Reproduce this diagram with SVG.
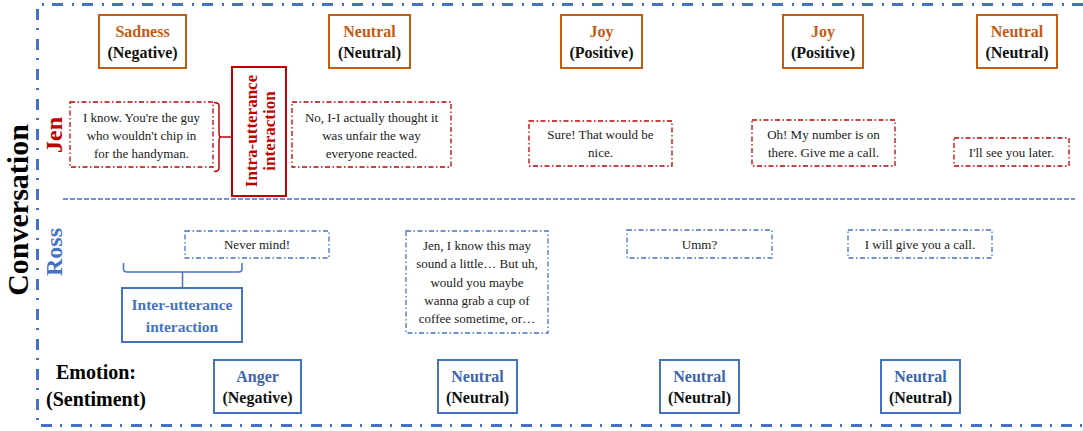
<svg xmlns="http://www.w3.org/2000/svg" width="1083" height="431" viewBox="0 0 1083 431">
<style>
text{font-family:"Liberation Serif","Times New Roman",serif;}
.emo{fill:#fff;stroke:#C55A11;stroke-width:2;}
.emb{fill:#fff;stroke:#4472C4;stroke-width:2;}
.ju{fill:#fff;stroke:#C00000;stroke-width:1.3;stroke-dasharray:5 2.5 1.5 2.5;}
.ru{fill:#fff;stroke:#4472C4;stroke-width:1.3;stroke-dasharray:5 2.5 1.5 2.5;}
.ut{font-size:13px;fill:#1a1a1a;text-anchor:middle;}
.lbl{font-size:16px;font-weight:bold;text-anchor:middle;}
.or{fill:#C55A11;}
.bl{fill:#3C64AE;}
.bk{fill:#111;}
</style>
<rect width="1083" height="431" fill="#fff"/>
<g id="frame">
<path d="M1083,4.5 H37.5 V425.5 H1083" fill="none" stroke="#4472C4" stroke-width="3" stroke-dasharray="11 8 2 9"/>
<line x1="63" y1="199" x2="1075" y2="199" stroke="#4472C4" stroke-width="1.5" stroke-dasharray="5 2"/>
</g>
<g id="labels">
<text transform="translate(28,210) rotate(-90)" font-size="30" font-weight="bold" text-anchor="middle" fill="#000">Conversation</text>
<text transform="translate(62,135) rotate(-90)" font-size="24" font-weight="bold" text-anchor="middle" fill="#C00000">Jen</text>
<text transform="translate(62,252) rotate(-90)" font-size="24" font-weight="bold" text-anchor="middle" fill="#4472C4">Ross</text>
<text x="96" y="379" font-size="20" font-weight="bold" text-anchor="middle" fill="#000">Emotion:</text>
<text x="96" y="406" font-size="20" font-weight="bold" text-anchor="middle" fill="#000">(Sentiment)</text>
</g>
<g id="emo-top-1"><rect class="emo" x="99" y="15" width="87" height="53"/><text class="lbl or" x="142.5" y="37">Sadness</text><text class="lbl bk" x="142.5" y="58">(Negative)</text></g>
<g id="emo-top-2"><rect class="emo" x="329" y="15" width="81" height="53"/><text class="lbl or" x="369.5" y="37">Neutral</text><text class="lbl bk" x="369.5" y="58">(Neutral)</text></g>
<g id="emo-top-3"><rect class="emo" x="561" y="15" width="81" height="53"/><text class="lbl or" x="601.5" y="37">Joy</text><text class="lbl bk" x="601.5" y="58">(Positive)</text></g>
<g id="emo-top-4"><rect class="emo" x="783" y="15" width="80" height="53"/><text class="lbl or" x="823" y="37">Joy</text><text class="lbl bk" x="823" y="58">(Positive)</text></g>
<g id="emo-top-5"><rect class="emo" x="977" y="15" width="80" height="53"/><text class="lbl or" x="1017" y="37">Neutral</text><text class="lbl bk" x="1017" y="58">(Neutral)</text></g>
<g id="jen-1"><rect class="ju" x="70" y="102" width="143" height="65"/><text class="ut" x="141.5" y="122">I know. You're the guy</text><text class="ut" x="141.5" y="140">who wouldn't chip in</text><text class="ut" x="141.5" y="158">for the handyman.</text></g>
<g id="jen-2"><rect class="ju" x="292" y="102" width="159" height="65"/><text class="ut" x="371.5" y="122">No, I-I actually thought it</text><text class="ut" x="371.5" y="140">was unfair the way</text><text class="ut" x="371.5" y="158">everyone reacted.</text></g>
<g id="jen-3"><rect class="ju" x="529" y="121" width="143" height="45"/><text class="ut" x="600.5" y="139">Sure! That would be</text><text class="ut" x="600.5" y="157">nice.</text></g>
<g id="jen-4"><rect class="ju" x="752" y="120" width="143" height="46"/><text class="ut" x="823.5" y="139">Oh! My number is on</text><text class="ut" x="823.5" y="157">there.  Give me a call.</text></g>
<g id="jen-5"><rect class="ju" x="954" y="138" width="115" height="28"/><text class="ut" x="1011.5" y="157">I'll see you later.</text></g>
<g id="intra"><rect x="232" y="67" width="54" height="129" fill="#fff" stroke="#C00000" stroke-width="2"/><g transform="translate(259,131) rotate(-90)"><text x="0" y="-2" font-size="17" font-weight="bold" text-anchor="middle" fill="#C00000">Intra-utterance</text><text x="0" y="16" font-size="17" font-weight="bold" text-anchor="middle" fill="#C00000">interaction</text></g></g>
<g id="ross-1"><rect class="ru" x="185" y="231" width="144" height="27"/><text class="ut" x="257" y="249">Never mind!</text></g>
<g id="ross-2"><rect class="ru" x="406" y="231" width="142" height="102"/><text class="ut" x="477" y="250">Jen, I know this may</text><text class="ut" x="477" y="268">sound a little… But uh,</text><text class="ut" x="477" y="287">would you maybe</text><text class="ut" x="477" y="305">wanna grab a cup of</text><text class="ut" x="477" y="323">coffee sometime, or…</text></g>
<g id="ross-3"><rect class="ru" x="627" y="230" width="145" height="28"/><text class="ut" x="699.5" y="249">Umm?</text></g>
<g id="ross-4"><rect class="ru" x="848" y="230" width="144" height="28"/><text class="ut" x="920" y="249">I will give you a call.</text></g>
<g id="inter"><rect x="122" y="288" width="120" height="54" fill="#fff" stroke="#4472C4" stroke-width="2"/><text x="182" y="310" font-size="15.5" font-weight="bold" text-anchor="middle" fill="#4472C4">Inter-utterance</text><text x="182" y="332" font-size="15.5" font-weight="bold" text-anchor="middle" fill="#4472C4">interaction</text></g>
<g id="emo-bot-1"><rect class="emb" x="214" y="360" width="87" height="53"/><text class="lbl bl" x="257.5" y="382">Anger</text><text class="lbl bk" x="257.5" y="403">(Negative)</text></g>
<g id="emo-bot-2"><rect class="emb" x="438" y="360" width="79" height="53"/><text class="lbl bl" x="477.5" y="382">Neutral</text><text class="lbl bk" x="477.5" y="403">(Neutral)</text></g>
<g id="emo-bot-3"><rect class="emb" x="660" y="360" width="79" height="53"/><text class="lbl bl" x="699.5" y="382">Neutral</text><text class="lbl bk" x="699.5" y="403">(Neutral)</text></g>
<g id="emo-bot-4"><rect class="emb" x="881" y="360" width="79" height="53"/><text class="lbl bl" x="920.5" y="382">Neutral</text><text class="lbl bk" x="920.5" y="403">(Neutral)</text></g>
<g id="connectors" fill="none" stroke-width="1.5">
<path d="M214,102.5 Q219,102.5 219,106 V133 Q219,137 221,137 H232 M221,137 Q219,137 219,141 V168 Q219,171.5 214,171.5" stroke="#C00000"/>
<path d="M123.5,263 V269 Q123.5,272 127,272 H238.5 Q242,272 242,269 V263 M182.5,272 V288" stroke="#4472C4"/>
</g>
</svg>
